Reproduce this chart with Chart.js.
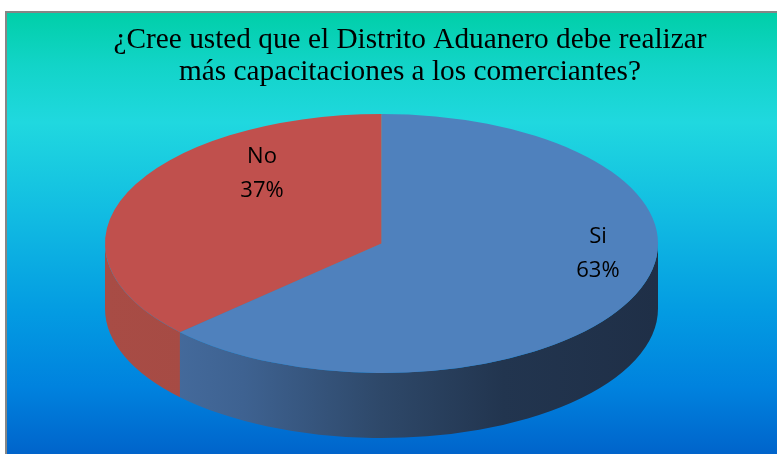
<!DOCTYPE html>
<html lang="es">
<head>
<meta charset="utf-8">
<title>Distrito Aduanero - capacitaciones</title>
<script src="https://cdn.jsdelivr.net/npm/chart.js@4/dist/chart.umd.min.js"></script>
<style>
  html, body { margin: 0; padding: 0; background: #fff; }
  #wrap { position: relative; width: 777px; height: 454px; }
</style>
</head>
<body>
<div id="wrap"><canvas id="pie"></canvas></div>
<script>
/* ─── Datos ─── */
const TITLE_LINES = ['¿Cree usted que el Distrito Aduanero debe realizar', 'más capacitaciones a los comerciantes?'];
const LABELS  = ['Si', 'No'];
const VALUES  = [63, 37];
const COLORS  = ['#4f81bd', '#c0504d'];

/* ─── Geometría del pastel 3D (elipse superior + canto) ─── */
const CX = 381.5, CY = 243.5, RX = 276.5, RY = 129.5, DEPTH = 65;

const SIDE_STOPS = [
  [[0, '#4a72a6'], [0.25, '#3e6291'], [0.5, '#2e4869'], [0.72, '#22354f'], [1, '#1f2f47']],
  [[0, '#a84c45'], [1, '#9a453f']],
];

// ajuste de etiquetas (fracción radial x/y), colocadas como en Excel
const LABEL_POS = [
  { fx: 0.853, fy: 0.64 },
  { fx: 0.471, fy: 0.92 },
];

function visibleRanges(a0, a1) {
  // parte frontal del canto: ángulos entre 0 y PI (mitad inferior)
  const out = [];
  for (let k = -1; k <= 1; k++) {
    const lo = Math.max(a0, 2 * Math.PI * k);
    const hi = Math.min(a1, Math.PI + 2 * Math.PI * k);
    if (hi > lo) out.push([lo, hi]);
  }
  return out;
}

const pie3d = {
  id: 'pie3d',
  beforeDraw(chart) {
    const ctx = chart.ctx;
    ctx.save();
    const g = ctx.createLinearGradient(0, 12, 0, 454);
    g.addColorStop(0,    '#00cfa8');
    g.addColorStop(0.12, '#12d4c8');
    g.addColorStop(0.25, '#20d8df');
    g.addColorStop(0.45, '#12bde2');
    g.addColorStop(0.68, '#039be2');
    g.addColorStop(0.85, '#0082de');
    g.addColorStop(1,    '#0064cb');
    ctx.fillStyle = g;
    ctx.fillRect(6, 12, 771, 442);
    ctx.strokeStyle = '#868686';
    ctx.lineWidth = 2;
    ctx.beginPath();
    ctx.moveTo(6, 454); ctx.lineTo(6, 12); ctx.lineTo(777, 12);
    ctx.stroke();

    // título
    ctx.fillStyle = '#000';
    ctx.font = '29.3px "Liberation Serif", "Times New Roman", serif';
    ctx.textAlign = 'center';
    ctx.textBaseline = 'alphabetic';
    ctx.fillText(TITLE_LINES[0], 410, 48);
    ctx.fillText(TITLE_LINES[1], 410, 79.5);
    ctx.restore();
  },
  beforeDatasetsDraw(chart) {
    const ctx = chart.ctx;
    const meta = chart.getDatasetMeta(0);
    const p = meta.data[0].getProps(['x', 'y', 'outerRadius'], true);

    // canto del pastel, desde los ángulos de los arcos calculados por Chart.js
    meta.data.forEach((arc, i) => {
      const { startAngle, endAngle } = arc.getProps(['startAngle', 'endAngle'], true);
      const g = ctx.createLinearGradient(CX - RX, 0, CX + RX, 0);
      SIDE_STOPS[i].forEach(([o, c]) => g.addColorStop(o, c));
      visibleRanges(startAngle, endAngle).forEach(([a0, a1]) => {
        ctx.save();
        ctx.fillStyle = g;
        ctx.beginPath();
        ctx.ellipse(CX, CY, RX, RY, 0, a0, a1);
        ctx.ellipse(CX, CY + DEPTH, RX, RY, 0, a1, a0, true);
        ctx.closePath();
        ctx.fill();
        ctx.restore();
      });
    });

    // cara superior: el pastel de Chart.js aplanado a elipse
    ctx.save();
    ctx.translate(CX, CY);
    ctx.scale(RX / p.outerRadius, RY / p.outerRadius);
    ctx.translate(-p.x, -p.y);
  },
  afterDatasetsDraw(chart) {
    const ctx = chart.ctx;
    ctx.restore();

    const meta = chart.getDatasetMeta(0);
    const total = VALUES.reduce((s, v) => s + v, 0);
    ctx.save();
    ctx.fillStyle = '#000';
    ctx.font = '22px "Open Sans", sans-serif';
    ctx.textAlign = 'center';
    ctx.textBaseline = 'alphabetic';
    meta.data.forEach((arc, i) => {
      const { startAngle, endAngle } = arc.getProps(['startAngle', 'endAngle'], true);
      const mid = (startAngle + endAngle) / 2;
      const lp = LABEL_POS[i];
      const x = CX + lp.fx * RX * Math.cos(mid);
      const y = CY - 24 + lp.fy * RY * Math.sin(mid);
      const pct = Math.round(VALUES[i] / total * 100) + '%';
      ctx.fillText(LABELS[i], x, y - 9);
      ctx.fillText(pct, x, y + 25);
    });
    ctx.restore();
  },
};

new Chart(document.getElementById('pie'), {
  type: 'pie',
  data: {
    labels: LABELS,
    datasets: [{
      data: VALUES,
      backgroundColor: COLORS,
      borderWidth: 0,
    }],
  },
  options: {
    responsive: true,
    maintainAspectRatio: false,
    animation: false,
    events: [],
    plugins: {
      legend: { display: false },
      tooltip: { enabled: false },
    },
  },
  plugins: [pie3d],
});
</script>
</body>
</html>
